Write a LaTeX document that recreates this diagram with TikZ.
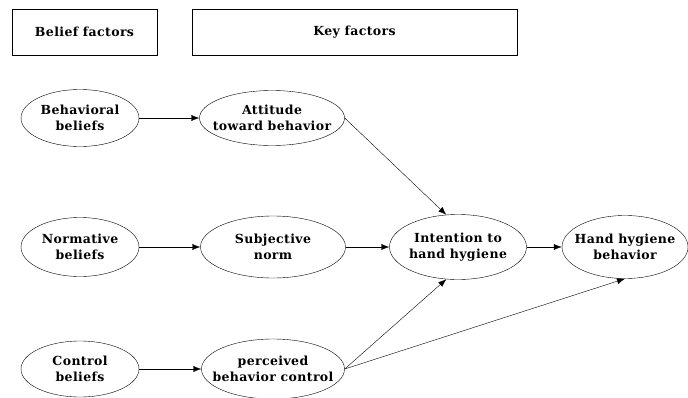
\documentclass[tikz,border=0pt]{standalone}
\usepackage{fontspec}
\setmainfont{DejaVu Serif}[LetterSpace=3]
\usetikzlibrary{shapes.geometric,arrows.meta}
\tikzset{
  factor/.style={draw, thin, ellipse, inner xsep=-10pt, inner ysep=0pt, align=center, font=\bfseries\fontsize{12.5}{15.5}\selectfont},
  header/.style={draw, semithick, rectangle, inner sep=0pt, font=\bfseries\fontsize{12.5}{15.5}\selectfont}
}
\begin{document}
\begin{tikzpicture}[x=1pt, y=-1pt, >={Latex[length=8pt,width=6pt]}]
			\useasboundingbox (0,0) rectangle (688,397);
			% header boxes
			\node[header, minimum width=145pt, minimum height=46pt] (belief) at (84.5,32) {Belief factors};
			\node[header, minimum width=325pt, minimum height=46pt] (key) at (354.5,32) {Key factors};
			% beliefs
			\node[factor, minimum width=118pt, minimum height=57pt] (behb) at (80,118) {Behavioral\\beliefs};
			\node[factor, minimum width=118pt, minimum height=59pt] (normb) at (80,247) {Normative\\beliefs};
			\node[factor, minimum width=118pt, minimum height=56pt] (contb) at (80,369) {Control\\beliefs};
			% key factors
			\node[factor, minimum width=145pt, minimum height=55pt] (att) at (272,118) {Attitude\\toward behavior};
			\node[factor, minimum width=145pt, minimum height=62pt] (norm) at (273,247) {Subjective\\norm};
			\node[factor, minimum width=143pt, minimum height=60pt] (pbc) at (273,369) {perceived\\behavior control};
			\node[factor, minimum width=137pt, minimum height=65pt] (intent) at (458,247) {Intention to\\hand hygiene};
			\node[factor, minimum width=126pt, minimum height=63pt] (hhb) at (625,247) {Hand hygiene\\behavior};
			% arrows
			\draw [->] (behb.east)--(att.west);
			\draw [->] (normb.east)--(norm.west);
			\draw [->] (contb.east)--(pbc.west);
			\draw [->] (att.east)--(intent.110);
			\draw [->] (norm.east)--(intent.west);
			\draw [->] (pbc.east)--(intent.-110);
			\draw [->] (pbc.east)--(hhb.south);
			\draw [->] (intent.east)--(hhb.west);
			\end{tikzpicture}
\end{document}
